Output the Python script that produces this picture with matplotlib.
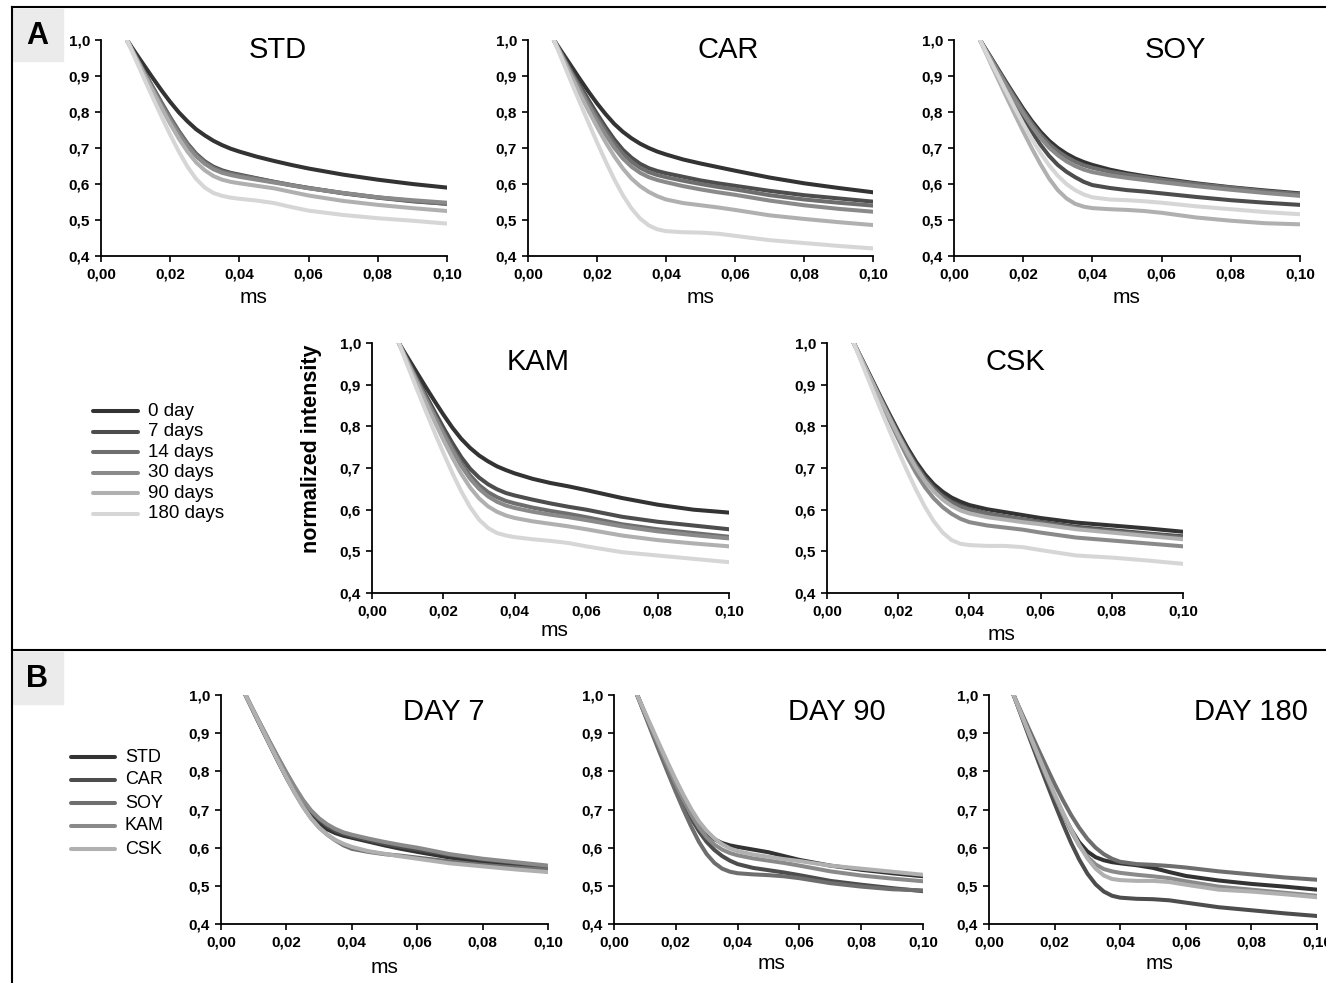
import numpy as np
import matplotlib.pyplot as plt
from matplotlib.lines import Line2D
from matplotlib.patches import Rectangle
from matplotlib.ticker import FuncFormatter, MultipleLocator

plt.rcParams['font.family'] = ['Liberation Sans', 'DejaVu Sans']

# relaxation time axis (ms)
t_ms = [0.0075, 0.01, 0.0125, 0.015, 0.0175, 0.02, 0.0225, 0.025, 0.0275, 0.03,
        0.0325, 0.035, 0.0375, 0.04, 0.045, 0.05, 0.055, 0.06, 0.07, 0.08, 0.09, 0.10]

storage_labels = ['0 day', '7 days', '14 days', '30 days', '90 days', '180 days']
sample_names = ['STD', 'CAR', 'SOY', 'KAM', 'CSK']
gray_levels = ['#333333', '#4d4d4d', '#6e6e6e', '#8a8a8a', '#b0b0b0', '#d6d6d6']

# normalized intensity, one row per storage time
std_curves = [
    [1.0, 0.964, 0.929, 0.894, 0.860, 0.828, 0.799, 0.774, 0.752, 0.735, 0.720, 0.708, 0.698, 0.690, 0.676, 0.664, 0.653, 0.643, 0.626, 0.612, 0.600, 0.590],
    [1.0, 0.955, 0.911, 0.868, 0.825, 0.784, 0.746, 0.712, 0.684, 0.663, 0.648, 0.638, 0.631, 0.626, 0.616, 0.606, 0.597, 0.589, 0.574, 0.562, 0.552, 0.545],
    [1.0, 0.955, 0.911, 0.868, 0.826, 0.785, 0.747, 0.712, 0.683, 0.661, 0.645, 0.635, 0.629, 0.624, 0.615, 0.606, 0.597, 0.589, 0.575, 0.563, 0.553, 0.545],
    [1.0, 0.953, 0.907, 0.862, 0.818, 0.777, 0.739, 0.705, 0.677, 0.656, 0.641, 0.631, 0.625, 0.620, 0.612, 0.604, 0.596, 0.588, 0.575, 0.563, 0.555, 0.548],
    [1.0, 0.952, 0.904, 0.857, 0.811, 0.767, 0.726, 0.690, 0.660, 0.638, 0.622, 0.612, 0.606, 0.602, 0.595, 0.588, 0.578, 0.568, 0.553, 0.542, 0.533, 0.525],
    [1.0, 0.946, 0.892, 0.839, 0.787, 0.737, 0.690, 0.648, 0.614, 0.590, 0.575, 0.567, 0.562, 0.559, 0.554, 0.547, 0.536, 0.526, 0.514, 0.505, 0.498, 0.490],
]
car_curves = [
    [1.0, 0.964, 0.928, 0.892, 0.857, 0.824, 0.794, 0.767, 0.745, 0.727, 0.712, 0.700, 0.690, 0.682, 0.668, 0.657, 0.647, 0.637, 0.618, 0.602, 0.589, 0.577],
    [1.0, 0.957, 0.915, 0.874, 0.834, 0.795, 0.758, 0.724, 0.695, 0.673, 0.656, 0.644, 0.636, 0.630, 0.620, 0.610, 0.602, 0.595, 0.581, 0.569, 0.560, 0.551],
    [1.0, 0.955, 0.911, 0.868, 0.826, 0.786, 0.748, 0.713, 0.684, 0.662, 0.645, 0.633, 0.625, 0.619, 0.609, 0.600, 0.592, 0.585, 0.569, 0.557, 0.548, 0.540],
    [1.0, 0.953, 0.907, 0.862, 0.818, 0.776, 0.737, 0.701, 0.671, 0.648, 0.631, 0.619, 0.611, 0.605, 0.594, 0.585, 0.577, 0.570, 0.554, 0.541, 0.531, 0.523],
    [1.0, 0.950, 0.900, 0.851, 0.804, 0.759, 0.716, 0.677, 0.643, 0.615, 0.594, 0.578, 0.566, 0.557, 0.547, 0.541, 0.535, 0.528, 0.513, 0.503, 0.494, 0.486],
    [1.0, 0.942, 0.884, 0.827, 0.771, 0.716, 0.663, 0.613, 0.569, 0.532, 0.504, 0.485, 0.474, 0.469, 0.466, 0.465, 0.462, 0.456, 0.444, 0.436, 0.428, 0.421],
]
soy_curves = [
    [1.0, 0.962, 0.923, 0.884, 0.846, 0.809, 0.775, 0.745, 0.720, 0.700, 0.684, 0.671, 0.661, 0.653, 0.640, 0.630, 0.622, 0.615, 0.602, 0.591, 0.582, 0.574],
    [1.0, 0.957, 0.913, 0.869, 0.826, 0.784, 0.745, 0.709, 0.678, 0.653, 0.634, 0.619, 0.606, 0.597, 0.589, 0.583, 0.579, 0.574, 0.564, 0.555, 0.548, 0.542],
    [1.0, 0.960, 0.920, 0.880, 0.841, 0.803, 0.768, 0.737, 0.711, 0.691, 0.675, 0.662, 0.652, 0.645, 0.634, 0.626, 0.619, 0.612, 0.600, 0.590, 0.580, 0.572],
    [1.0, 0.958, 0.916, 0.875, 0.835, 0.796, 0.760, 0.728, 0.701, 0.680, 0.663, 0.650, 0.640, 0.633, 0.624, 0.617, 0.611, 0.605, 0.594, 0.584, 0.575, 0.567],
    [1.0, 0.948, 0.896, 0.845, 0.795, 0.746, 0.699, 0.655, 0.615, 0.583, 0.560, 0.545, 0.537, 0.533, 0.530, 0.528, 0.525, 0.520, 0.507, 0.498, 0.491, 0.488],
    [1.0, 0.952, 0.905, 0.858, 0.812, 0.767, 0.725, 0.686, 0.652, 0.623, 0.600, 0.583, 0.571, 0.563, 0.557, 0.555, 0.552, 0.548, 0.538, 0.530, 0.522, 0.516],
]
kam_curves = [
    [1.0, 0.965, 0.930, 0.895, 0.861, 0.828, 0.797, 0.770, 0.748, 0.730, 0.716, 0.704, 0.695, 0.687, 0.674, 0.664, 0.656, 0.647, 0.628, 0.612, 0.600, 0.593],
    [1.0, 0.958, 0.917, 0.876, 0.836, 0.797, 0.760, 0.726, 0.698, 0.677, 0.661, 0.649, 0.640, 0.634, 0.624, 0.615, 0.607, 0.600, 0.583, 0.571, 0.562, 0.553],
    [1.0, 0.956, 0.913, 0.870, 0.828, 0.787, 0.748, 0.712, 0.682, 0.659, 0.642, 0.630, 0.621, 0.615, 0.605, 0.597, 0.590, 0.582, 0.565, 0.553, 0.544, 0.535],
    [1.0, 0.955, 0.911, 0.867, 0.824, 0.782, 0.742, 0.705, 0.674, 0.650, 0.632, 0.619, 0.610, 0.604, 0.595, 0.588, 0.582, 0.575, 0.560, 0.548, 0.539, 0.531],
    [1.0, 0.952, 0.905, 0.858, 0.812, 0.767, 0.725, 0.686, 0.653, 0.627, 0.608, 0.595, 0.586, 0.580, 0.572, 0.566, 0.560, 0.553, 0.538, 0.527, 0.519, 0.512],
    [1.0, 0.945, 0.891, 0.838, 0.786, 0.736, 0.688, 0.644, 0.606, 0.576, 0.556, 0.544, 0.538, 0.534, 0.529, 0.525, 0.520, 0.512, 0.498, 0.490, 0.482, 0.474],
]
csk_curves = [
    [1.0, 0.958, 0.915, 0.872, 0.830, 0.789, 0.750, 0.715, 0.685, 0.661, 0.643, 0.629, 0.619, 0.611, 0.601, 0.594, 0.587, 0.580, 0.569, 0.562, 0.555, 0.547],
    [1.0, 0.957, 0.913, 0.869, 0.826, 0.784, 0.744, 0.708, 0.677, 0.653, 0.634, 0.620, 0.610, 0.602, 0.591, 0.584, 0.577, 0.571, 0.559, 0.551, 0.543, 0.536],
    [1.0, 0.956, 0.912, 0.868, 0.824, 0.782, 0.742, 0.706, 0.675, 0.650, 0.631, 0.617, 0.607, 0.600, 0.590, 0.583, 0.576, 0.569, 0.556, 0.548, 0.541, 0.533],
    [1.0, 0.954, 0.907, 0.861, 0.815, 0.770, 0.727, 0.688, 0.654, 0.627, 0.606, 0.590, 0.578, 0.570, 0.562, 0.557, 0.552, 0.545, 0.533, 0.526, 0.519, 0.512],
    [1.0, 0.955, 0.910, 0.865, 0.821, 0.778, 0.738, 0.701, 0.669, 0.644, 0.624, 0.609, 0.598, 0.591, 0.582, 0.576, 0.570, 0.565, 0.553, 0.545, 0.537, 0.529],
    [1.0, 0.947, 0.894, 0.842, 0.791, 0.741, 0.693, 0.648, 0.607, 0.572, 0.545, 0.527, 0.518, 0.515, 0.513, 0.513, 0.510, 0.503, 0.490, 0.485, 0.478, 0.470],
]
all_curves = [std_curves, car_curves, soy_curves, kam_curves, csk_curves]

# panel B compares samples at one storage time (index into storage_labels)
day_panels = [('DAY 7', 1), ('DAY 90', 4), ('DAY 180', 5)]

W, H = 1326, 983
fig = plt.figure(figsize=(W / 100, H / 100), dpi=100)


def rect(x0, x1, top, bottom):
    return [x0 / W, 1 - bottom / H, (x1 - x0) / W, (bottom - top) / H]


def fx(x):
    return x / W


def fy(y):
    return 1 - y / H


def style_axes(ax):
    ax.set_xlim(0, 0.10)
    ax.set_ylim(0.4, 1.0)
    ax.xaxis.set_major_locator(MultipleLocator(0.02))
    ax.yaxis.set_major_locator(MultipleLocator(0.1))
    ax.xaxis.set_major_formatter(FuncFormatter(lambda v, p: f'{v:.2f}'.replace('.', ',')))
    ax.yaxis.set_major_formatter(FuncFormatter(lambda v, p: f'{v:.1f}'.replace('.', ',')))
    for side in ('top', 'right'):
        ax.spines[side].set_visible(False)
    for side in ('left', 'bottom'):
        ax.spines[side].set_linewidth(1.3)
    ax.tick_params(direction='out', length=4, width=1.2, pad=4, labelsize=11)
    for lab in ax.get_xticklabels() + ax.get_yticklabels():
        lab.set_fontweight('bold')
    ax.patch.set_alpha(0)


# (pixel box, title position in axes fraction, xlabel position)
a_layout = [
    ((101, 447, 40, 256), (0.51, 0.955), (0.44, -0.19)),
    ((528, 873, 40, 256), (0.58, 0.955), (0.50, -0.19)),
    ((954, 1300, 40, 256), (0.64, 0.955), (0.50, -0.19)),
    ((372, 729, 343, 593), (0.465, 0.925), (0.51, -0.15)),
    ((827, 1183, 343, 593), (0.53, 0.925), (0.49, -0.166)),
]
b_layout = [
    ((221, 548, 695, 924), (0.68, 0.925), (0.50, -0.19)),
    ((614, 923, 695, 924), (0.72, 0.925), (0.51, -0.172)),
    ((989, 1317, 695, 924), (0.80, 0.925), (0.52, -0.172)),
]

lw = 2.9
for name, curves, (box, tpos, xlpos) in zip(sample_names, all_curves, a_layout):
    ax = fig.add_axes(rect(*box))
    for vals, color in zip(curves, gray_levels):
        ax.plot(t_ms, vals, color=color, lw=lw, solid_capstyle='round',
                solid_joinstyle='round')
    style_axes(ax)
    ax.text(*tpos, name, transform=ax.transAxes, ha='center', va='center', fontsize=21)
    ax.set_xlabel('ms', fontsize=15)
    ax.xaxis.set_label_coords(*xlpos)
    ax.xaxis.label.set_va('center')

for (title, idx), (box, tpos, xlpos) in zip(day_panels, b_layout):
    ax = fig.add_axes(rect(*box))
    for curves, color in zip(all_curves, gray_levels):
        ax.plot(t_ms, curves[idx], color=color, lw=lw, solid_capstyle='round',
                solid_joinstyle='round')
    style_axes(ax)
    ax.text(*tpos, title, transform=ax.transAxes, ha='center', va='center', fontsize=21)
    ax.set_xlabel('ms', fontsize=15)
    ax.xaxis.set_label_coords(*xlpos)
    ax.xaxis.label.set_va('center')

fig.text(fx(312), fy(449), 'normalized intensity', rotation=90, ha='center',
         va='center', fontsize=15.5, fontweight='bold')

# legends
for i, (lab, color) in enumerate(zip(storage_labels, gray_levels)):
    y = fy(411 + i * 20.6)
    fig.add_artist(Line2D([fx(93), fx(138)], [y, y], color=color, lw=lw,
                          solid_capstyle='round'))
    fig.text(fx(148), y, lab, ha='left', va='center', fontsize=13.5)
for i, (lab, color) in enumerate(zip(sample_names, gray_levels)):
    y = fy(757 + i * 23)
    fig.add_artist(Line2D([fx(71), fx(115)], [y, y], color=color, lw=lw,
                          solid_capstyle='round'))
    fig.text(fx(125), y, lab, ha='left', va='center', fontsize=13)

# outer frame and separator between parts A and B
frame_kw = dict(color='black', lw=1.5)
fig.add_artist(Line2D([fx(12), fx(12)], [fy(7), 0], **frame_kw))
fig.add_artist(Line2D([fx(12), 1], [fy(7), fy(7)], **frame_kw))
fig.add_artist(Line2D([fx(12), 1], [fy(650), fy(650)], **frame_kw))

# part letters
for letter, top in (('A', 9), ('B', 652)):
    fig.add_artist(Rectangle((fx(13), fy(top + 52)), fx(50), 52 / H,
                             transform=fig.transFigure, color='#ebebeb', zorder=0))
    fig.text(fx(37), fy(top + 27), letter, ha='center', va='center',
             fontsize=22, fontweight='bold')

fig.savefig('out.png', dpi=100)
